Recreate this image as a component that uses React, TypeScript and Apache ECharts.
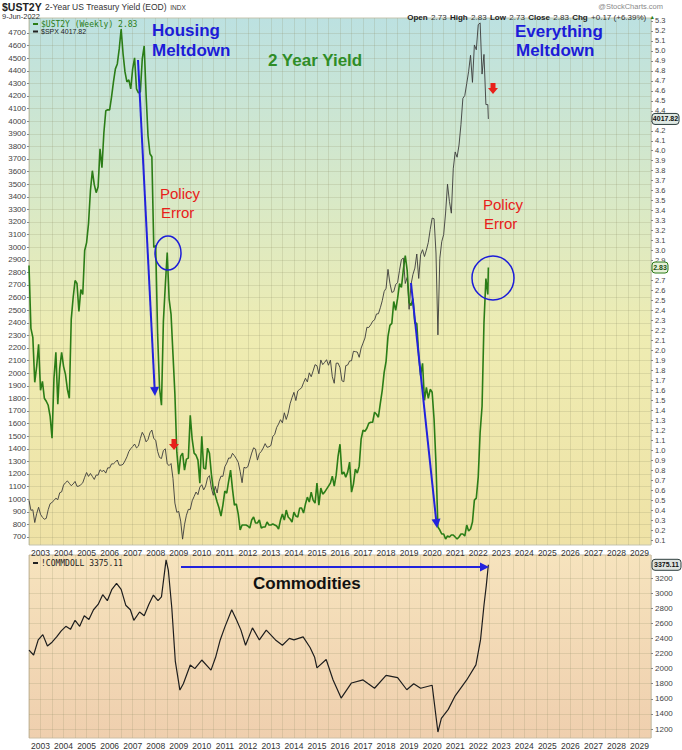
import React, { useEffect, useRef } from 'react';
import * as echarts from 'echarts';

// ---------- data ----------
// Monthly points, first = end of June 2002, step = 1 month, last monthly = May 2022
const MONTH_START = 2002.5;
const LAST_DATE = 2022.44; // 9-Jun-2022

const ust2y: number[] = [
  2.85, 2.22, 2.13, 1.68, 1.84, 2.06, 1.6,
  1.69, 1.52, 1.49, 1.45, 1.34, 1.12, 1.72, 1.98, 1.46, 1.82, 1.98, 1.84,
  1.76, 1.61, 1.52, 2.31, 2.53, 2.7, 2.67, 2.39, 2.61, 2.56, 3.0, 3.08,
  3.27, 3.6, 3.8, 3.66, 3.58, 3.64, 4.02, 3.83, 4.18, 4.4, 4.41, 4.41,
  4.54, 4.69, 4.82, 4.87, 5.02, 5.22, 4.97, 4.79, 4.69, 4.71, 4.62, 4.82,
  4.93, 4.62, 4.58, 4.59, 4.92, 5.05, 4.56, 4.15, 3.97, 3.94, 3.03, 3.05,
  2.16, 1.62, 1.45, 2.29, 2.65, 2.98, 2.51, 2.36, 1.96, 1.56, 0.98, 0.76,
  0.94, 0.97, 0.8, 0.91, 0.92, 1.35, 1.11, 0.97, 0.95, 0.9, 0.67, 1.14,
  0.82, 0.81, 1.02, 0.97, 0.76, 0.61, 0.55, 0.48, 0.42, 0.34, 0.45, 0.59,
  0.57, 0.69, 0.8, 0.61, 0.45, 0.46, 0.36, 0.2, 0.25, 0.25, 0.25, 0.24,
  0.22, 0.3, 0.33, 0.27, 0.27, 0.3, 0.22, 0.23, 0.23, 0.28, 0.25, 0.25,
  0.26, 0.25, 0.24, 0.21, 0.3, 0.36, 0.3, 0.4, 0.33, 0.31, 0.28, 0.38,
  0.34, 0.33, 0.42, 0.42, 0.37, 0.46, 0.53, 0.48, 0.58, 0.5, 0.47, 0.67,
  0.45, 0.62, 0.56, 0.58, 0.61, 0.64, 0.67, 0.74, 0.64, 0.75, 0.94, 1.06,
  0.76, 0.78, 0.73, 0.78, 0.88, 0.58, 0.66, 0.81, 0.77, 0.84, 1.11, 1.2,
  1.19, 1.22, 1.27, 1.28, 1.28, 1.38, 1.36, 1.33, 1.47, 1.6, 1.78, 1.89,
  2.14, 2.25, 2.27, 2.49, 2.4, 2.52, 2.67, 2.63, 2.81, 2.95, 2.8, 2.48,
  2.45, 2.52, 2.27, 2.27, 1.95, 1.75, 1.87, 1.5, 1.63, 1.52, 1.61, 1.58,
  1.31, 0.86, 0.23, 0.2, 0.16, 0.16, 0.11, 0.14, 0.13, 0.15, 0.15, 0.13,
  0.11, 0.13, 0.16, 0.16, 0.14, 0.25, 0.19, 0.21, 0.28, 0.5, 0.52, 0.73,
  1.18, 1.44, 2.28, 2.72, 2.56,
];
const ust2yLast = 2.83;

const spx: number[] = [
  990, 912, 916, 815, 886, 936, 880,
  856, 841, 848, 917, 964, 975, 990, 1008, 996, 1051, 1058, 1112,
  1131, 1145, 1126, 1107, 1121, 1141, 1102, 1104, 1115, 1130, 1174, 1212,
  1181, 1204, 1181, 1157, 1192, 1191, 1234, 1220, 1229, 1207, 1249, 1248,
  1280, 1281, 1295, 1311, 1270, 1270, 1277, 1304, 1336, 1378, 1401, 1418,
  1438, 1407, 1421, 1482, 1531, 1503, 1455, 1474, 1527, 1549, 1481, 1468,
  1379, 1331, 1323, 1386, 1400, 1280, 1267, 1283, 1165, 969, 896, 903,
  826, 683, 798, 873, 919, 919, 987, 1021, 1057, 1036, 1096, 1115,
  1074, 1104, 1169, 1187, 1089, 1031, 1102, 1049, 1141, 1183, 1181, 1258,
  1286, 1327, 1326, 1364, 1345, 1321, 1292, 1219, 1131, 1253, 1247, 1258,
  1312, 1366, 1408, 1398, 1310, 1362, 1379, 1406, 1441, 1412, 1416, 1426,
  1498, 1515, 1569, 1597, 1631, 1606, 1686, 1633, 1682, 1757, 1806, 1848,
  1783, 1859, 1872, 1884, 1924, 1960, 1931, 2003, 1972, 2018, 2068, 2059,
  1995, 2105, 2068, 2086, 2107, 2063, 2104, 1972, 1920, 2079, 2080, 2044,
  1940, 1932, 2060, 2065, 2097, 2099, 2174, 2171, 2168, 2126, 2199, 2239,
  2279, 2364, 2363, 2384, 2412, 2423, 2470, 2472, 2519, 2575, 2648, 2674,
  2824, 2714, 2641, 2648, 2705, 2718, 2816, 2902, 2914, 2712, 2760, 2507,
  2704, 2784, 2834, 2946, 2752, 2942, 2980, 2926, 2977, 3038, 3141, 3231,
  3226, 2954, 2304, 2912, 3044, 3100, 3271, 3500, 3363, 3270, 3622, 3756,
  3714, 3811, 3973, 4181, 4204, 4298, 4395, 4523, 4308, 4605, 4567, 4766,
  4780, 4374, 4530, 4132, 4132,
];
const spxLast = 4017.82;

// !COMMDOLL: [decimal year, value]
const commodity: [number, number][] = [
  [2002.5, 2246], [2002.7, 2180], [2002.9, 2380], [2003.1, 2450], [2003.3, 2300],
  [2003.5, 2350], [2003.7, 2420], [2003.9, 2500], [2004.1, 2560], [2004.3, 2520],
  [2004.5, 2640], [2004.7, 2560], [2004.9, 2700], [2005.1, 2650], [2005.3, 2780],
  [2005.5, 2850], [2005.7, 2980], [2005.9, 2900], [2006.1, 3050], [2006.3, 3130],
  [2006.5, 3050], [2006.7, 2840], [2006.9, 2780], [2007.05, 2640], [2007.3, 2750],
  [2007.5, 2700], [2007.7, 2850], [2007.9, 2975], [2008.1, 2900], [2008.25, 2950],
  [2008.45, 3440], [2008.55, 3300], [2008.7, 2800], [2008.85, 2100], [2009.05, 1716],
  [2009.2, 1800], [2009.5, 2048], [2009.7, 2000], [2010.0, 2114], [2010.4, 1980],
  [2010.6, 2150], [2010.8, 2380], [2011.0, 2550], [2011.3, 2780], [2011.5, 2650],
  [2011.7, 2510], [2011.9, 2310], [2012.2, 2540], [2012.5, 2380], [2012.8, 2510],
  [2013.2, 2380], [2013.5, 2310], [2013.8, 2400], [2014.0, 2380], [2014.4, 2420],
  [2014.7, 2280], [2014.9, 2150], [2015.0, 2010], [2015.4, 2120], [2015.7, 1850],
  [2016.05, 1610], [2016.5, 1810], [2017.0, 1850], [2017.5, 1740], [2018.0, 1910],
  [2018.5, 1880], [2018.9, 1720], [2019.2, 1800], [2019.5, 1740], [2020.0, 1780],
  [2020.25, 1160], [2020.4, 1340], [2020.7, 1460], [2021.0, 1640], [2021.5, 1850],
  [2021.9, 2050], [2022.1, 2380], [2022.25, 2840], [2022.35, 3100], [2022.44, 3375.11],
];
const commodityLast = 3375.11;

// tick labels
const yearLabels: number[] = [];
for (let y = 2003; y <= 2029; y++) yearLabels.push(y);
const spxTicks: number[] = [];
for (let v = 700; v <= 4700; v += 100) spxTicks.push(v);
const yieldTicks: number[] = [];
for (let k = 1; k <= 53; k++) yieldTicks.push(k / 10);
// labels hidden by the last-value boxes on the right axis
const yieldLabelsHidden = [2.8, 4.3];
const yieldLabels = yieldTicks.filter((v) => !yieldLabelsHidden.some((h) => Math.abs(h - v) < 1e-6));
const commTicks: number[] = [];
for (let v = 1200; v <= 3200; v += 200) commTicks.push(v);

// ---------- helpers ----------
const monthly = (arr: number[], last: number) => {
  const out: [number, number][] = arr.map((v, i) => [MONTH_START + i / 12, v]);
  out.push([LAST_DATE, last]);
  return out;
};

const FONT = '"Liberation Sans", Arial, sans-serif';

function arrow(x1: number, y1: number, x2: number, y2: number, color: string) {
  const dx = x2 - x1, dy = y2 - y1;
  const len = Math.sqrt(dx * dx + dy * dy);
  const ux = dx / len, uy = dy / len;
  const hl = 9, hw = 4.5;
  const bx = x2 - ux * hl, by = y2 - uy * hl;
  return [
    { type: 'line', shape: { x1, y1, x2: bx, y2: by }, style: { stroke: color, lineWidth: 2 }, z: 50 },
    {
      type: 'polygon',
      shape: { points: [[x2, y2], [bx - uy * hw, by + ux * hw], [bx + uy * hw, by - ux * hw]] },
      style: { fill: color },
      z: 50,
    },
  ];
}

function redDown(cx: number, top: number) {
  return {
    type: 'polygon',
    shape: {
      points: [
        [cx - 2.5, top], [cx + 2.5, top], [cx + 2.5, top + 5], [cx + 5, top + 5],
        [cx, top + 11], [cx - 5, top + 5], [cx - 2.5, top + 5],
      ],
    },
    style: { fill: '#e8201a' },
    z: 50,
  };
}

function label(text: string, x: number, y: number, size: number, color: string, weight = 'bold') {
  return {
    type: 'text', x, y, z: 50,
    style: { text, fill: color, font: `${weight} ${size}px ${FONT}`, verticalAlign: 'middle' },
  };
}

export default function App() {
  const ref = useRef<HTMLDivElement>(null);

  useEffect(() => {
    if (!ref.current) return;
    const chart = echarts.init(ref.current, undefined, { renderer: 'svg' });

    const gridLine = { show: true, lineStyle: { color: 'rgba(140,140,100,0.2)', width: 1 } };
    const xCommon = (gridIndex: number) => ({
      type: 'value', gridIndex, min: 2002.5, max: 2029.5, interval: 0.5,
      axisLine: { show: false }, axisTick: { show: false },
      axisLabel: {
        formatter: (v: number) => (yearLabels.includes(v) ? String(v) : ''),
        fontSize: 8.5, color: '#333', margin: 3, fontFamily: FONT,
      },
      splitLine: gridLine,
    });

    const option: any = {
      animation: false,
      backgroundColor: '#ffffff',
      grid: [
        {
          left: 29, right: 31, top: 18, height: 527, show: true,
          backgroundColor: new echarts.graphic.LinearGradient(0, 0, 0, 1, [
            { offset: 0, color: '#bce1e1' },
            { offset: 0.35, color: '#d9e9c6' },
            { offset: 0.6, color: '#eeecb2' },
            { offset: 1, color: '#efe2a6' },
          ]),
          borderColor: '#c4c4ae', borderWidth: 1,
        },
        {
          left: 29, right: 31, top: 555, height: 183, show: true,
          backgroundColor: new echarts.graphic.LinearGradient(0, 0, 0, 1, [
            { offset: 0, color: '#f6e3bd' },
            { offset: 1, color: '#efcfae' },
          ]),
          borderColor: '#cdbfa6', borderWidth: 1,
        },
      ],
      xAxis: [xCommon(0), xCommon(1)],
      yAxis: [
        {
          type: 'value', gridIndex: 0, position: 'left', min: 636.5, max: 4819,
          axisLine: { show: false },
          axisTick: { show: true, customValues: spxTicks, length: 2, lineStyle: { color: '#888' } },
          axisLabel: {
            customValues: spxTicks, fontSize: 8, color: '#444', margin: 3, fontFamily: FONT,
            formatter: (v: number) => String(v),
          },
          splitLine: gridLine,
        },
        {
          type: 'value', gridIndex: 0, position: 'right', min: 0.05, max: 5.33,
          axisLine: { show: false },
          axisTick: { show: true, customValues: yieldTicks, length: 2, lineStyle: { color: '#888' } },
          axisLabel: {
            customValues: yieldLabels, fontSize: 7.5, color: '#444', margin: 4, fontFamily: FONT,
            formatter: (v: number) => v.toFixed(1),
          },
          splitLine: { show: false },
        },
        {
          type: 'value', gridIndex: 1, position: 'right', min: 1081, max: 3505,
          axisLine: { show: false },
          axisTick: { show: true, customValues: commTicks, length: 2, lineStyle: { color: '#888' } },
          axisLabel: {
            customValues: commTicks, fontSize: 8, color: '#444', margin: 4, fontFamily: FONT,
            formatter: (v: number) => String(v),
          },
          splitLine: gridLine,
        },
      ],
      series: [
        {
          name: '$SPX', type: 'line', xAxisIndex: 0, yAxisIndex: 0,
          data: monthly(spx, spxLast), showSymbol: false, z: 3,
          lineStyle: { color: '#3b3b3b', width: 0.9 },
        },
        {
          name: '$UST2Y', type: 'line', xAxisIndex: 0, yAxisIndex: 1,
          data: monthly(ust2y, ust2yLast), showSymbol: false, z: 4,
          lineStyle: { color: '#2b7d17', width: 1.6 },
        },
        {
          name: '!COMMDOLL', type: 'line', xAxisIndex: 1, yAxisIndex: 2,
          data: commodity, showSymbol: false, z: 3,
          lineStyle: { color: '#1e1e1e', width: 1.2 },
        },
      ],
    };

    chart.setOption(option);

    const ySpx = chart.convertToPixel({ yAxisIndex: 0 }, spxLast) as number;
    const yUst = chart.convertToPixel({ yAxisIndex: 1 }, ust2yLast) as number;
    const yCom = chart.convertToPixel({ yAxisIndex: 2 }, commodityLast) as number;
    const rx = 651;

    const valueBox = (text: string, y: number, stroke: string, fill: string, color: string, w: number) => [
      { type: 'rect', shape: { x: rx + 1, y: y - 5.5, width: w, height: 11, r: 3 }, style: { fill, stroke, lineWidth: 1 }, z: 60 },
      {
        type: 'text', x: rx + 1 + w / 2, y, z: 61,
        style: { text, fill: color, font: `bold 7px ${FONT}`, align: 'center', verticalAlign: 'middle' },
      },
    ];

    const graphic: any[] = [
      // header
      {
        type: 'text', x: 2, y: 1, z: 50,
        style: {
          text: '{a|$UST2Y} {b|2-Year US Treasury Yield (EOD)} {c|INDX}',
          verticalAlign: 'top',
          rich: {
            a: { font: `bold 10.5px ${FONT}`, fill: '#222' },
            b: { font: `8.5px ${FONT}`, fill: '#333' },
            c: { font: `6.5px ${FONT}`, fill: '#333' },
          },
        },
      },
      { type: 'text', x: 2, y: 12, z: 50, style: { text: '9-Jun-2022', fill: '#333', font: `7.5px ${FONT}`, verticalAlign: 'top' } },
      { type: 'text', x: 663, y: 2, z: 50, style: { text: '@StockCharts.com', fill: '#8a8a8a', font: `7.5px ${FONT}`, align: 'right', verticalAlign: 'top' } },
      {
        type: 'text', x: 655, y: 11, z: 50,
        style: {
          text: '{k|Open} {v|2.73} {k|High} {v|2.83} {k|Low} {v|2.73} {k|Close} {v|2.83} {k|Chg} {v|+0.17 (+6.39%)} {g|▲}',
          align: 'right', verticalAlign: 'top',
          rich: {
            k: { font: `bold 8px ${FONT}`, fill: '#222' },
            v: { font: `8px ${FONT}`, fill: '#333' },
            g: { font: `5.5px ${FONT}`, fill: '#2b7d17' },
          },
        },
      },
      // legends
      { type: 'line', shape: { x1: 33, y1: 24, x2: 38, y2: 24 }, style: { stroke: '#2b7d17', lineWidth: 2 }, z: 50 },
      { type: 'text', x: 41, y: 24, z: 50, style: { text: '$UST2Y (Weekly) 2.83', fill: '#2b7d17', font: `8px "DejaVu Sans Mono", monospace`, verticalAlign: 'middle' } },
      { type: 'line', shape: { x1: 33, y1: 31.5, x2: 38, y2: 31.5 }, style: { stroke: '#222', lineWidth: 2 }, z: 50 },
      { type: 'text', x: 41, y: 31.5, z: 50, style: { text: '$SPX 4017.82', fill: '#222', font: `7px ${FONT}`, verticalAlign: 'middle' } },
      { type: 'line', shape: { x1: 33, y1: 563, x2: 38, y2: 563 }, style: { stroke: '#222', lineWidth: 2 }, z: 50 },
      { type: 'text', x: 41, y: 563, z: 50, style: { text: '!COMMDOLL 3375.11', fill: '#222', font: `8px "DejaVu Sans Mono", monospace`, verticalAlign: 'middle' } },
      // annotations
      label('Housing', 152, 30, 17, '#1c1cd8'),
      label('Meltdown', 152, 50, 17, '#1c1cd8'),
      label('2 Year Yield', 268, 60, 17, '#2f8d27'),
      label('Everything', 515, 31, 17, '#1c1cd8'),
      label('Meltdown', 516, 50, 17, '#1c1cd8'),
      label('Policy', 160, 193, 15, '#e8201a', 'normal'),
      label('Error', 161, 212, 15, '#e8201a', 'normal'),
      label('Policy', 483, 204, 15, '#e8201a', 'normal'),
      label('Error', 484, 223, 15, '#e8201a', 'normal'),
      label('Commodities', 253, 583, 17, '#111111'),
      { type: 'ellipse', shape: { cx: 168, cy: 253, rx: 13, ry: 17 }, style: { fill: 'none', stroke: '#1c1cd8', lineWidth: 1.5 }, z: 50 },
      { type: 'ellipse', shape: { cx: 493, cy: 278, rx: 21, ry: 22 }, style: { fill: 'none', stroke: '#1c1cd8', lineWidth: 1.5 }, z: 50 },
      ...arrow(138, 60, 155, 396, '#2222dd'),
      ...arrow(411, 283, 437, 528, '#2222dd'),
      ...arrow(181, 567, 489, 567, '#2222dd'),
      redDown(174, 439),
      redDown(493, 83),
      // right-axis value boxes
      ...valueBox('4017.82', ySpx, '#2f3f3f', '#dfe9e4', '#111', 27),
      ...valueBox('2.83', yUst, '#2b7d17', '#e6f0d8', '#1a4f10', 16),
      ...valueBox('3375.11', yCom, '#2f3f3f', '#dfe4e0', '#111', 29),
    ];

    chart.setOption({ graphic });

    return () => chart.dispose();
  }, []);

  return (
    <div
      ref={ref}
      style={{ position: 'absolute', left: 0, top: 0, width: 682, height: 750 }}
    />
  );
}
